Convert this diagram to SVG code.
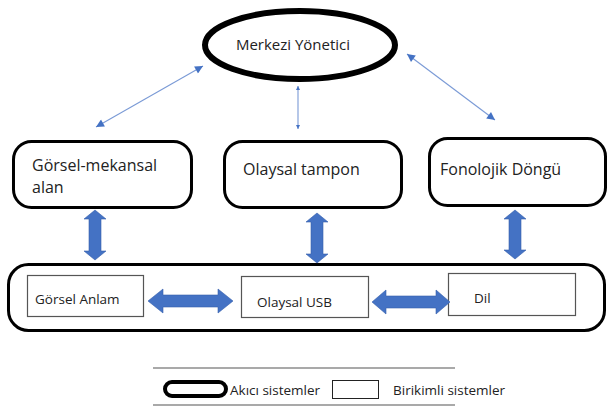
<svg xmlns="http://www.w3.org/2000/svg" width="608" height="406" viewBox="0 0 608 406">
<style>
.t{font-family:"Open Sans","Noto Sans","Liberation Sans",sans-serif;fill:#222}
.big{font-size:16px}
.sm{font-size:13.5px}
.thick{fill:#fff;stroke:#000;stroke-width:3}
.inner{fill:#fff;stroke:#555;stroke-width:1.2}
.thin{stroke:#7a9ad6;stroke-width:1.1;fill:none}
.blk{fill:#4472c4;stroke:#3560ad;stroke-width:0.6}
.rule{stroke:#555;stroke-width:1.2}
</style>
<defs>
<marker id="ah" viewBox="0 0 10 10" refX="10" refY="5" markerWidth="10" markerHeight="8" markerUnits="userSpaceOnUse" orient="auto-start-reverse">
<path d="M0,0 L10,5 L0,10 z" fill="#4472c4"/>
</marker>
<marker id="ahs" viewBox="0 0 10 10" refX="10" refY="5" markerWidth="5" markerHeight="4" markerUnits="userSpaceOnUse" orient="auto-start-reverse">
<path d="M0,0 L10,5 L0,10 z" fill="#4472c4"/>
</marker>
</defs>
<rect width="608" height="406" fill="#fff"/>

<g id="container">
<rect x="8.5" y="264.5" width="596" height="66" rx="20" class="thick"/>
</g>

<g id="merkezi">
<ellipse cx="300" cy="45" rx="95" ry="34" fill="#fff" stroke="#000" stroke-width="6"/>
<text x="293" y="50" text-anchor="middle" class="t" font-size="15">Merkezi Yönetici</text>
</g>

<g id="gorsel-mekansal">
<rect x="13.5" y="141.5" width="178" height="66" rx="18" class="thick"/>
<text x="32" y="171" class="t big">Görsel-mekansal</text>
<text x="32" y="193" class="t big">alan</text>
</g>

<g id="olaysal-tampon">
<rect x="224.5" y="141.5" width="177" height="66" rx="18" class="thick"/>
<text x="243" y="175" class="t big">Olaysal tampon</text>
</g>

<g id="fonolojik">
<rect x="429.5" y="138.5" width="176" height="67" rx="18" class="thick"/>
<text x="440" y="175" class="t big">Fonolojik Döngü</text>
</g>

<g id="gorsel-anlam">
<rect x="27.5" y="275.5" width="116" height="41" class="inner"/>
<text x="35" y="304" class="t sm">Görsel Anlam</text>
</g>

<g id="olaysal-usb">
<rect x="241.5" y="276.5" width="127" height="41" class="inner"/>
<text x="257" y="307" class="t sm">Olaysal USB</text>
</g>

<g id="dil">
<rect x="448.5" y="273.5" width="127" height="42" class="inner"/>
<text x="474" y="303" class="t sm">Dil</text>
</g>

<g id="connectors">
<line x1="96" y1="127" x2="203" y2="66" class="thin" marker-start="url(#ah)" marker-end="url(#ah)"/>
<line x1="407" y1="54" x2="495" y2="120" class="thin" marker-start="url(#ah)" marker-end="url(#ah)"/>
<line x1="298" y1="86" x2="298" y2="129" class="thin" marker-start="url(#ahs)" marker-end="url(#ahs)"/>
<path class="blk" d="M95,210 L106,219 L101,219 L101,251 L106,251 L95,260 L84,251 L89,251 L89,219 L84,219 Z"/>
<path class="blk" d="M317,213 L328,222 L323,222 L323,254 L328,254 L317,263 L306,254 L311,254 L311,222 L306,222 Z"/>
<path class="blk" d="M515,210 L526,219 L521,219 L521,250 L526,250 L515,259 L504,250 L509,250 L509,219 L504,219 Z"/>
<path class="blk" d="M148,301 L163,289 L163,295 L218,295 L218,289 L233,301 L218,313 L218,307 L163,307 L163,313 Z"/>
<path class="blk" d="M372,302 L386,290 L386,296 L436,296 L436,290 L450,302 L436,314 L436,308 L386,308 L386,314 Z"/>
</g>

<g id="legend">
<line x1="153" y1="368" x2="455" y2="368" class="rule"/>
<line x1="153" y1="405" x2="455" y2="405" class="rule"/>
<rect x="165" y="382" width="61" height="14" rx="7" fill="#fff" stroke="#000" stroke-width="4"/>
<text x="230" y="395" class="t sm">Akıcı sistemler</text>
<rect x="332.5" y="380.5" width="46" height="18" fill="#fff" stroke="#222" stroke-width="1"/>
<text x="393" y="395" class="t sm">Birikimli sistemler</text>
</g>
</svg>
